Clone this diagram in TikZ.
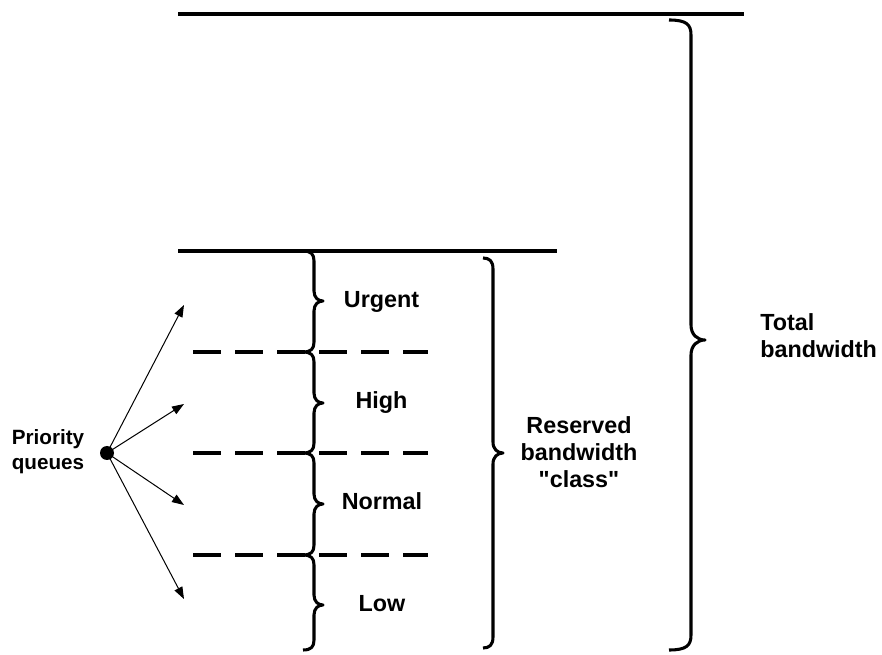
\documentclass[tikz,border=0pt]{standalone}
\usepackage{fontspec}
\setmainfont{Liberation Sans}
\usetikzlibrary{arrows.meta}
% right-pointing curly brace: #1 left x, #2 stem x, #3 tip x, #4 top y, #5 tip y, #6 bottom y, #7 radius
\newcommand{\rbracepath}[7]{%
  \draw[bracestyle] (#1,#4) .. controls (#2-#7*0.3,#4) and (#2,#4+#7*0.3) .. (#2,#4+#7)
    -- (#2,#5-#7) .. controls (#2,#5-#7*0.35) and (#3-#7*0.5,#5) .. (#3,#5)
    .. controls (#3-#7*0.5,#5) and (#2,#5+#7*0.35) .. (#2,#5+#7)
    -- (#2,#6-#7) .. controls (#2,#6-#7*0.3) and (#2-#7*0.3,#6) .. (#1,#6);}
\tikzset{
  solidline/.style={line width=2.3pt, line cap=butt},
  dashline/.style={line width=2.3pt, dash pattern=on 21pt off 10.5pt},
  bracestyle/.style={line width=2.3pt, line join=round},
  arr/.style={line width=0.75pt, -{Triangle[length=9pt,width=6.5pt]}},
  lbl/.style={font=\fontsize{17.5}{20.25}\selectfont\bfseries, inner sep=0pt, align=center},
  lbls/.style={font=\fontsize{15.5}{18.75}\selectfont\bfseries, inner sep=0pt, align=center},
}
\begin{document}
\begin{tikzpicture}[x=0.75pt, y=-0.75pt]
\useasboundingbox (0,0) rectangle (882,655);
% horizontal lines
\coordinate (t1) at (178,14); \coordinate (t2) at (744,14);
\coordinate (m1) at (178,251); \coordinate (m2) at (557,251);
\draw[solidline] (t1) -- (t2);
\draw[solidline] (m1) -- (m2);
\foreach \y/\n in {352/a,453/b,555/c}{
  \coordinate (d\n1) at (193,\y); \coordinate (d\n2) at (428,\y);
  \draw[dashline] (d\n1) -- (d\n2);
}
% small braces
\rbracepath{303}{314}{323}{251}{301}{352}{10}
\rbracepath{303}{314}{323}{352}{403}{453}{10}
\rbracepath{303}{314}{323}{453}{504}{555}{10}
\rbracepath{303}{314}{323}{555}{605}{650}{10}
% reserved brace
\rbracepath{483}{493}{503}{258}{453}{648}{11}
% total brace
\rbracepath{669}{691}{705}{20}{340}{650}{15}
% labels (base anchor of a multi-line node = last line's baseline)
\node[lbl, anchor=base] (urg) at (381.5,308) {Urgent};
\node[lbl, anchor=base] (hig) at (381.5,409) {High};
\node[lbl, anchor=base] (nor) at (382,510) {Normal};
\node[lbl, anchor=base] (low) at (382,612) {Low};
\node[lbl, anchor=base] (res) at (579,488) {Reserved\\bandwidth\\\textquotedbl class\textquotedbl};
\node[lbl, anchor=base west, align=left] (tot) at (760,358) {Total\\bandwidth};
\node[lbls, anchor=base] (pq) at (48,470) {Priority\\queues};
% dot and arrows
\node[circle, fill=black, inner sep=0pt, minimum size=10.5pt] (dot) at (107,453) {};
\coordinate (e1) at (184,305);
\coordinate (e2) at (184,404);
\coordinate (e3) at (184,505);
\coordinate (e4) at (184,599);
\foreach \e in {e1,e2,e3,e4}{ \draw[arr] (dot.center) -- (\e); }
\end{tikzpicture}
\end{document}
